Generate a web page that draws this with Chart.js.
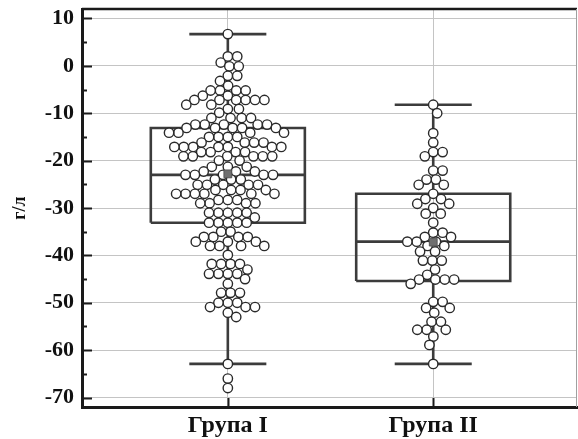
<!DOCTYPE html>
<html>
<head>
<meta charset="utf-8">
<script src="https://cdn.jsdelivr.net/npm/chart.js@4.4.1/dist/chart.umd.min.js"></script>
<style>
  body { margin: 0; background: #fff; }
  #chart { display: block; }
</style>
</head>
<body>
<canvas id="chart" width="578" height="439"></canvas>
<script>
// data
var categories = ['Група I', 'Група II'];
var groupPos = [1, 2];
var tickVals = [10, 0, -10, -20, -30, -40, -50, -60, -70];

var q3 = [-13.1, -27.0];
var median = [-23.0, -37.1];
var q1 = [-33.1, -45.4];
var whiskerHigh = [6.7, -8.2];
var whiskerLow = [-62.9, -62.9];
var means = [-22.8, -37.2];

var group1 = [
  6.7, 2.0, 2.0, 0.7, -0.1, -0.1, -2.1, -2.1, -3.2, -4.2,
  -5.2, -5.2, -5.2, -5.2, -6.3, -6.3,
  -7.2, -7.2, -7.2, -7.2, -7.2, -7.2, -8.2, -8.2, -9.1, -9.1, -9.9,
  -11.0, -11.0, -11.0, -11.0, -12.4, -12.4, -12.4, -12.4, -12.4,
  -13.1, -13.1, -13.1, -13.1, -13.1, -14.1, -14.1, -14.1, -14.1,
  -15.0, -15.0, -15.0, -15.0, -16.2, -16.2, -16.2, -16.2,
  -17.1, -17.1, -17.1, -17.1, -17.1, -17.1, -17.1,
  -18.2, -18.2, -18.2, -18.2, -19.1, -19.1, -19.1, -19.1, -19.1, -19.1,
  -20.0, -20.0, -21.3, -21.3, -21.3, -22.3, -22.3, -22.3,
  -23.0, -23.0, -23.0, -23.0, -23.0, -24.0, -24.0, -24.0,
  -25.1, -25.1, -25.1, -25.1, -25.1, -26.2, -26.2, -26.2, -26.2,
  -27.0, -27.0, -27.0, -27.0, -27.0, -27.0, -28.3, -28.3, -28.3,
  -29.0, -29.0, -29.0, -29.0, -31.0, -31.0, -31.0, -31.0, -31.0, -32.0,
  -33.1, -33.1, -33.1, -33.1, -33.1, -35.0, -35.0,
  -36.1, -36.1, -36.1, -36.1, -37.1, -37.1, -37.1, -38.0, -38.0, -38.0, -38.0,
  -39.9, -41.8, -41.8, -41.8, -41.8, -43.0, -43.9, -43.9, -43.9, -43.9,
  -45.0, -46.0, -47.9, -47.9, -47.9, -50.0, -50.0, -50.0, -50.9, -50.9, -50.9,
  -52.1, -53.0, -62.9, -66.0, -68.0
];

var group2 = [
  -8.2, -10.0, -14.2, -16.2, -18.2, -18.2, -19.1, -22.1, -22.1, -24.0, -24.0,
  -25.1, -25.1, -27.0, -28.1, -28.1, -29.1, -29.1, -30.0, -31.2, -31.2, -33.1,
  -35.2, -35.2, -36.1, -36.1, -37.1, -37.1, -37.1, -38.0, -38.0, -39.2, -39.2,
  -41.1, -41.1, -41.1, -43.0, -44.1, -45.1, -45.1, -45.1, -45.1, -46.0,
  -49.8, -49.8, -51.1, -51.1, -52.1, -54.0, -54.0, -55.7, -55.7, -55.7,
  -57.1, -58.9, -62.9
];

var xMin = 0.29, xMax = 2.7, yMin = -72, yMax = 12;
var plotW = 495, plotH = 398; // chart area size in px
var pxPerX = plotW / (xMax - xMin);
var pxPerY = plotH / (yMax - yMin);
var dot = 9.4; // marker diameter in px
var boxHalf = 0.375, capHalf = 0.1875;

// simple beeswarm: put every value as near the centre line as it fits
function swarm(vals, center) {
  var sorted = vals.slice().sort(function (a, b) { return b - a; });
  var placed = [];
  var out = [];
  sorted.forEach(function (v) {
    var py = v * pxPerY;
    var near = placed.filter(function (p) { return Math.abs(p.py - py) < dot; });
    var cands = [0];
    near.forEach(function (p) {
      var dx = Math.sqrt(dot * dot - (p.py - py) * (p.py - py));
      cands.push(p.px + dx, p.px - dx);
    });
    cands.sort(function (a, b) { return Math.abs(a) - Math.abs(b); });
    var px = cands.find(function (c) {
      return near.every(function (p) {
        return (p.px - c) * (p.px - c) + (p.py - py) * (p.py - py) >= dot * dot - 0.01;
      });
    });
    placed.push({ px: px, py: py });
    out.push({ x: center + px / pxPerX, y: v });
  });
  return out;
}

var boxPath = [], medianPath = [], whiskerPath = [];
groupPos.forEach(function (c, i) {
  boxPath.push({ x: c - boxHalf, y: q1[i] }, { x: c - boxHalf, y: q3[i] },
    { x: c + boxHalf, y: q3[i] }, { x: c + boxHalf, y: q1[i] },
    { x: c - boxHalf, y: q1[i] }, { x: c, y: null });
  medianPath.push({ x: c - boxHalf, y: median[i] }, { x: c + boxHalf, y: median[i] }, { x: c, y: null });
  whiskerPath.push({ x: c, y: q3[i] }, { x: c, y: whiskerHigh[i] }, { x: c, y: null },
    { x: c - capHalf, y: whiskerHigh[i] }, { x: c + capHalf, y: whiskerHigh[i] }, { x: c, y: null },
    { x: c, y: q1[i] }, { x: c, y: whiskerLow[i] }, { x: c, y: null },
    { x: c - capHalf, y: whiskerLow[i] }, { x: c + capHalf, y: whiskerLow[i] }, { x: c, y: null });
});

var points = swarm(group1, groupPos[0]).concat(swarm(group2, groupPos[1]));
var meanPts = groupPos.map(function (c, i) { return { x: c, y: means[i] }; });

var lineStyle = {
  type: 'line', borderColor: '#3c3c3c', borderWidth: 2.6, pointRadius: 0,
  fill: false, tension: 0, borderJoinStyle: 'miter', spanGaps: false, order: 3
};

function noPad(scale) {
  scale.paddingTop = 0;
  scale.paddingBottom = 0;
  scale.paddingLeft = 0;
  scale.paddingRight = 0;
}

// inward ticks + top/right frame
var framePlugin = {
  id: 'frame',
  afterDraw: function (chart) {
    var ctx = chart.ctx, a = chart.chartArea;
    var ys = chart.scales.y, xs = chart.scales.x;
    ctx.save();
    ctx.strokeStyle = '#1a1a1a';
    ctx.lineWidth = 2;
    for (var v = -70; v <= 10; v += 5) {
      var py = Math.round(ys.getPixelForValue(v)) + 0.5;
      var len = v % 10 === 0 ? 10 : 5;
      ctx.beginPath();
      ctx.moveTo(a.left, py);
      ctx.lineTo(a.left + len, py);
      ctx.stroke();
    }
    groupPos.forEach(function (c) {
      var px = Math.round(xs.getPixelForValue(c)) + 0.5;
      ctx.beginPath();
      ctx.moveTo(px, a.bottom);
      ctx.lineTo(px, a.bottom - 9);
      ctx.stroke();
    });
    ctx.lineWidth = 2.5;
    ctx.beginPath();
    ctx.moveTo(a.left, a.top);
    ctx.lineTo(a.right, a.top);
    ctx.stroke();
    ctx.strokeStyle = '#a0a0a0';
    ctx.lineWidth = 1;
    ctx.beginPath();
    ctx.moveTo(a.right - 0.5, a.top);
    ctx.lineTo(a.right - 0.5, a.bottom);
    ctx.stroke();
    ctx.restore();
  }
};

var ctx = document.getElementById('chart');
var myChart = new Chart(ctx, {
  type: 'scatter',
  data: {
    datasets: [
      Object.assign({ data: boxPath }, lineStyle),
      Object.assign({ data: medianPath }, lineStyle),
      Object.assign({ data: whiskerPath }, lineStyle),
      {
        type: 'scatter', data: points, pointRadius: 4.7,
        pointBackgroundColor: '#ffffff', pointBorderColor: '#2a2a2a',
        pointBorderWidth: 1.4, order: 2
      },
      {
        type: 'scatter', data: meanPts, pointStyle: 'rect', pointRadius: 5.5,
        pointBackgroundColor: '#6f6f6f', pointBorderColor: '#555',
        pointBorderWidth: 1, order: 1
      }
    ]
  },
  options: {
    responsive: false,
    animation: false,
    layout: { autoPadding: false, padding: { top: 9, right: 1, left: 0, bottom: 0 } },
    plugins: { legend: { display: false }, tooltip: { enabled: false } },
    scales: {
      x: {
        type: 'linear', min: xMin, max: xMax,
        afterBuildTicks: function (scale) {
          scale.ticks = groupPos.map(function (v) { return { value: v }; });
        },
        afterFit: function (scale) { scale.height = 32; noPad(scale); },
        ticks: {
          padding: 4, color: '#111',
          font: { family: 'Liberation Serif', weight: 'bold', size: 24 },
          callback: function (v) { return categories[groupPos.indexOf(v)]; }
        },
        grid: { color: '#c4c4c4', lineWidth: 1, drawTicks: false },
        border: { color: '#1a1a1a', width: 3 }
      },
      y: {
        min: yMin, max: yMax,
        afterBuildTicks: function (scale) {
          scale.ticks = tickVals.map(function (v) { return { value: v }; });
        },
        afterFit: function (scale) { scale.width = 82; noPad(scale); },
        ticks: {
          padding: 8, color: '#111',
          font: { family: 'Liberation Serif', weight: 'bold', size: 22 }
        },
        grid: { color: '#c4c4c4', lineWidth: 1, drawTicks: false },
        border: { color: '#1a1a1a', width: 3 },
        title: {
          display: true, text: 'г/л', color: '#111',
          font: { family: 'Liberation Serif', weight: 'bold', size: 18 },
          padding: { top: 10, bottom: 0 }
        }
      }
    }
  },
  plugins: [framePlugin]
});
</script>
</body>
</html>
